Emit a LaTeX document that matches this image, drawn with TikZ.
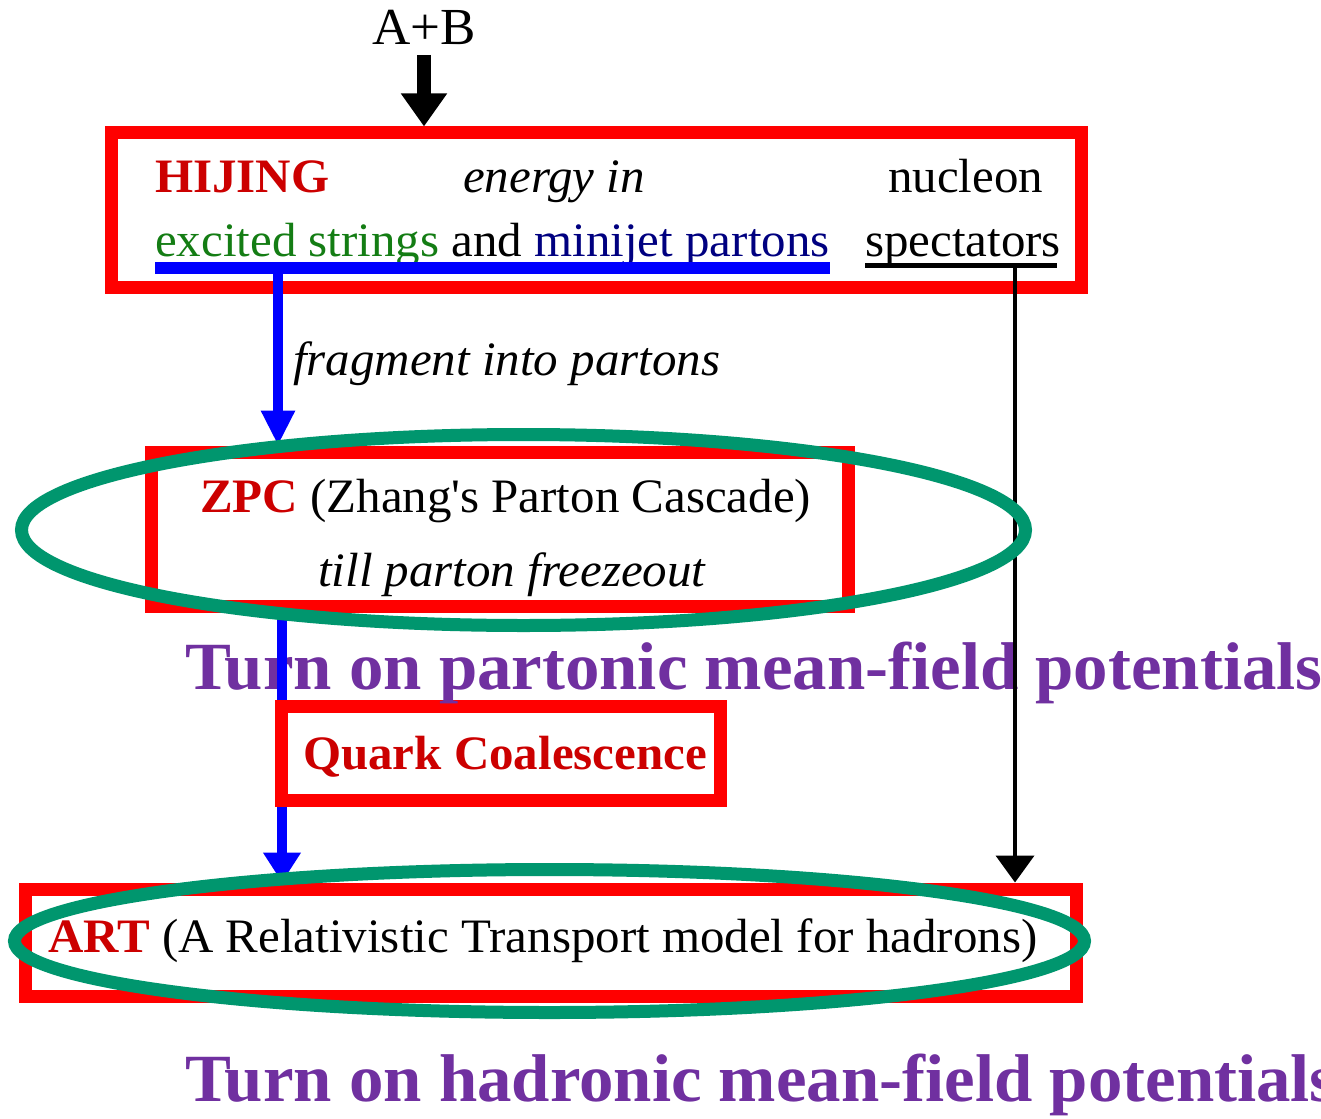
\documentclass[tikz,border=0pt]{standalone}
\usepackage{fontspec}
\setmainfont[FakeStretch=1.02]{Liberation Serif}
\usetikzlibrary{arrows.meta}
\definecolor{boxred}{RGB}{255,0,0}
\definecolor{txtred}{RGB}{204,0,0}
\definecolor{strgreen}{RGB}{20,125,20}
\definecolor{navyblue}{RGB}{0,0,128}
\definecolor{barblue}{RGB}{0,0,255}
\definecolor{ellgreen}{RGB}{0,150,110}
\definecolor{purp}{RGB}{112,48,160}
\begin{document}
\begin{tikzpicture}[x=1pt,y=-1pt,
  redbox/.style={draw=boxred, line width=13pt, rectangle, inner sep=0pt, fill=white},
  txt/.style={anchor=base west, inner sep=0pt, font=\fontsize{48}{56}\selectfont},
  bigtxt/.style={anchor=base west, inner sep=0pt, font=\fontsize{67.5}{80}\selectfont\bfseries, text=purp},
  ring/.style={draw=ellgreen, line width=13pt},
  bluearrow/.style={draw=barblue, line width=10pt},
  ]
\clip (0,0) rectangle (1321,1118);
\fill[white] (0,0) rectangle (1321,1118);

% boxes
\node[redbox, minimum width=970pt, minimum height=154pt] (hijing) at (596,210) {};
\node[redbox, minimum width=697pt, minimum height=154pt] (zpc) at (500,529) {};
\node[redbox, minimum width=439pt, minimum height=94pt] (quark) at (500.5,753) {};
\node[redbox, minimum width=1051pt, minimum height=107pt] (art) at (550.5,942.5) {};

% texts
\node[anchor=base, inner sep=0pt, font=\fontsize{52}{60}\selectfont] (ab) at (424,45) {A+B};
\node[txt, text=txtred, font=\fontsize{48}{56}\selectfont\bfseries] (hij) at (155,193) {HIJING};
\node[txt, font=\fontsize{48}{56}\selectfont\itshape] (energy) at (463,193) {energy in};
\node[txt] (nucleon) at (888,193) {nucleon};
\node[txt] (strings) at (155,256) {{\color{strgreen}excited strings} and {\color{navyblue}minijet partons}};
\node[txt] (spec) at (865,256) {spectators};
\node[txt, font=\fontsize{48}{56}\selectfont\itshape] (frag) at (293,375) {fragment into partons};
\node[txt] (zpct) at (200,512) {{\color{txtred}\bfseries ZPC} (Zhang\textquotesingle s Parton Cascade)};
\node[txt, font=\fontsize{48}{56}\selectfont\itshape] (till) at (318,586) {till parton freezeout};
\node[txt, text=txtred, font=\fontsize{48}{56}\selectfont\bfseries] (qc) at (303,769) {Quark Coalescence};
\node[txt] (artt) at (48,952) {{\color{txtred}\bfseries ART} (A Relativistic Transport model for hadrons)};
\node[bigtxt] (part) at (185,689) {Turn on partonic mean-field potentials};
\node[bigtxt] (hadr) at (185,1101) {Turn on hadronic mean-field potentials};

% underlines
\coordinate (barL) at (155,268);
\coordinate (barR) at (830,268);
\coordinate (barA) at (278,268);
\coordinate (ulL) at (865,265);
\coordinate (ulR) at (1057,265);
\coordinate (ulA) at (1015,265);
\draw[barblue, line width=12pt] (barL) -- (barR);
\draw[black, line width=5pt] (ulL) -- (ulR);

% connectors
\draw[line width=14pt, -{Triangle[length=33pt,width=44pt]}] (ab.south |- 0,55) -- (ab.south |- hijing.north);
\draw[bluearrow, -{Triangle[length=35pt,width=32pt]}, barblue] (barA) -- (barA |- zpc.north);
\draw[bluearrow] (282,0 |- zpc.south) -- (282,0 |- quark.north);
\draw[bluearrow, -{Triangle[length=30pt,width=36pt]}, barblue] (282,0 |- quark.south) -- (282,0 |- art.north);
\draw[black, line width=4pt, -{Triangle[length=27pt,width=38pt]}] (ulA) -- (ulA |- art.north);

% ellipses
\draw[ring] (523.5,530) ellipse [x radius=502pt, y radius=95.5pt];
\draw[ring] (549.5,941) ellipse [x radius=535pt, y radius=71.5pt];
\end{tikzpicture}
\end{document}
